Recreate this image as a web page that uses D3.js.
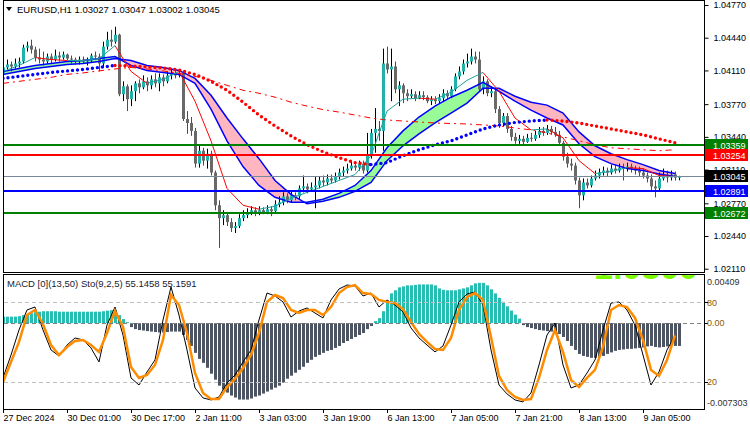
<!DOCTYPE html>
<html>
<head>
<meta charset="utf-8">
<script src="https://cdn.jsdelivr.net/npm/d3@7"></script>
<style>
  body { margin: 0; background: #fff; }
  svg text { font-family: "Liberation Sans", "DejaVu Sans", sans-serif; font-size: 9px; }
</style>
</head>
<body>
<div id="vis"></div>
<script>
// ---- data ----
const TITLE = "EURUSD,H1  1.03027 1.03047 1.03002 1.03045";
const SUB_TITLE = "MACD [0](13,50)  Sto(9,2,5) 55.1458 55.1591";
const SUB_MARK = "1.0300";

const timeTickBars = [0, 16, 32, 48, 64, 80, 96, 112, 128, 144, 160];
const timeTickLabels = ["27 Dec 2024", "30 Dec 01:00", "30 Dec 17:00", "2 Jan 11:00", "3 Jan 03:00",
  "3 Jan 19:00", "6 Jan 13:00", "7 Jan 05:00", "7 Jan 21:00", "8 Jan 13:00", "9 Jan 05:00"];

const priceTicks = [1.04770, 1.04440, 1.04110, 1.03770, 1.03440, 1.03110, 1.02770, 1.02440, 1.02110];

const open = [
1.0408,1.0414,1.0417,1.0415,1.0418,1.0420,1.0434,1.0436,1.0432,1.0424,
1.0422,1.0420,1.0425,1.0422,1.0426,1.0424,1.0427,1.0423,1.0422,1.0420,
1.0422,1.0420,1.0421,1.0426,1.0425,1.0418,1.0435,1.0442,1.0440,1.0447,
1.0387,1.0395,1.0382,1.0390,1.0398,1.0394,1.0400,1.0396,1.0402,1.0398,
1.0404,1.0400,1.0406,1.0408,1.0406,1.0408,1.0362,1.0358,1.0350,1.0317,
1.0330,1.0320,1.0327,1.0308,1.0275,1.0262,1.0265,1.0258,1.0252,1.0254,
1.0262,1.0265,1.0268,1.0270,1.0267,1.0270,1.0268,1.0271,1.0269,1.0276,
1.0278,1.0284,1.0280,1.0285,1.0284,1.0292,1.0294,1.0291,1.0293,1.0295,
1.0300,1.0298,1.0302,1.0300,1.0304,1.0308,1.0310,1.0312,1.0315,1.0313,
1.0317,1.0310,1.0325,1.0348,1.0352,1.0350,1.0418,1.0412,1.0415,1.0392,
1.0396,1.0388,1.0385,1.0387,1.0383,1.0386,1.0384,1.0380,1.0382,1.0380,
1.0383,1.0388,1.0385,1.0392,1.0405,1.0410,1.0418,1.0420,1.0425,1.0422,
1.0392,1.0400,1.0388,1.0390,1.0372,1.0358,1.0365,1.0352,1.0344,1.0340,
1.0342,1.0339,1.0343,1.0342,1.0346,1.0350,1.0348,1.0352,1.0349,1.0346,
1.0338,1.0324,1.0317,1.0315,1.0300,1.0285,1.0298,1.0295,1.0302,1.0305,
1.0308,1.0310,1.0308,1.0312,1.0310,1.0313,1.0312,1.0314,1.0312,1.0310,
1.0308,1.0305,1.0302,1.0294,1.0292,1.0302,1.0305,1.0303,1.0306,1.03027];

const high = [
1.0418,1.0422,1.0420,1.0423,1.0424,1.0437,1.0440,1.0442,1.0435,1.0433,
1.0430,1.0428,1.0428,1.0432,1.0430,1.0430,1.0428,1.0426,1.0424,1.0425,
1.0425,1.0424,1.0428,1.0430,1.0428,1.0440,1.0450,1.0452,1.0455,1.0448,
1.0400,1.0397,1.0396,1.0400,1.0402,1.0406,1.0404,1.0406,1.0408,1.0408,
1.0407,1.0410,1.0412,1.0412,1.0412,1.0410,1.0370,1.0364,1.0353,1.0335,
1.0333,1.0332,1.0330,1.0310,1.0280,1.0270,1.0268,1.0262,1.0258,1.0266,
1.0270,1.0272,1.0274,1.0273,1.0274,1.0273,1.0275,1.0274,1.0280,1.0284,
1.0288,1.0287,1.0290,1.0288,1.0295,1.0305,1.0297,1.0298,1.0304,1.0304,
1.0305,1.0306,1.0306,1.0308,1.0312,1.0314,1.0317,1.0320,1.0319,1.0320,
1.0320,1.0348,1.0352,1.0373,1.0360,1.0433,1.0435,1.0433,1.0420,1.0400,
1.0398,1.0392,1.0392,1.0390,1.0390,1.0390,1.0386,1.0385,1.0385,1.0387,
1.0392,1.0391,1.0395,1.0408,1.0415,1.0422,1.0428,1.0433,1.0430,1.0430,
1.0405,1.0402,1.0395,1.0392,1.0375,1.0368,1.0368,1.0355,1.0348,1.0346,
1.0345,1.0347,1.0348,1.0350,1.0354,1.0354,1.0356,1.0355,1.0354,1.0350,
1.0340,1.0328,1.0322,1.0318,1.0303,1.0302,1.0302,1.0305,1.0310,1.0312,
1.0314,1.0313,1.0316,1.0316,1.0317,1.0317,1.0318,1.0317,1.0315,1.0314,
1.0312,1.0308,1.0306,1.0300,1.0308,1.0312,1.0310,1.0310,1.0309,1.03047];

const low = [
1.0406,1.0412,1.0410,1.0413,1.0414,1.0418,1.0430,1.0428,1.0420,1.0418,
1.0416,1.0418,1.0418,1.0420,1.0420,1.0422,1.0420,1.0418,1.0417,1.0417,
1.0418,1.0416,1.0419,1.0422,1.0410,1.0414,1.0432,1.0435,1.0438,1.0385,
1.0380,1.0370,1.0375,1.0380,1.0388,1.0392,1.0390,1.0392,1.0394,1.0390,
1.0395,1.0398,1.0402,1.0403,1.0404,1.0360,1.0347,1.0345,1.0313,1.0313,
1.0315,1.0312,1.0305,1.0270,1.0232,1.0255,1.0254,1.0248,1.0247,1.0252,
1.0259,1.0262,1.0265,1.0264,1.0265,1.0266,1.0266,1.0264,1.0267,1.0273,
1.0275,1.0277,1.0278,1.0280,1.0281,1.0288,1.0287,1.0289,1.0272,1.0292,
1.0294,1.0295,1.0297,1.0298,1.0301,1.0304,1.0307,1.0310,1.0310,1.0310,
1.0307,1.0308,1.0322,1.0328,1.0340,1.0330,1.0408,1.0380,1.0388,1.0375,
1.0378,1.0380,1.0383,1.0380,1.0382,1.0381,1.0378,1.0376,1.0377,1.0378,
1.0380,1.0382,1.0383,1.0390,1.0402,1.0407,1.0414,1.0417,1.0418,1.0390,
1.0387,1.0385,1.0384,1.0368,1.0353,1.0355,1.0348,1.0340,1.0337,1.0337,
1.0336,1.0338,1.0339,1.0340,1.0343,1.0345,1.0346,1.0346,1.0344,1.0335,
1.0320,1.0313,1.0310,1.0296,1.0272,1.0280,1.0292,1.0293,1.0300,1.0302,
1.0305,1.0304,1.0306,1.0307,1.0308,1.0300,1.0309,1.0308,1.0306,1.0304,
1.0302,1.0298,1.0290,1.0283,1.0290,1.0300,1.0298,1.0300,1.0300,1.03002];

const close = [
1.0414,1.0417,1.0415,1.0418,1.0420,1.0434,1.0436,1.0432,1.0424,1.0422,
1.0420,1.0425,1.0422,1.0426,1.0424,1.0427,1.0423,1.0422,1.0420,1.0422,
1.0420,1.0421,1.0426,1.0425,1.0418,1.0435,1.0442,1.0440,1.0447,1.0387,
1.0395,1.0382,1.0390,1.0398,1.0394,1.0400,1.0396,1.0402,1.0398,1.0404,
1.0400,1.0406,1.0408,1.0406,1.0408,1.0362,1.0358,1.0350,1.0317,1.0330,
1.0320,1.0327,1.0308,1.0275,1.0262,1.0265,1.0258,1.0252,1.0254,1.0262,
1.0265,1.0268,1.0270,1.0267,1.0270,1.0268,1.0271,1.0269,1.0276,1.0278,
1.0284,1.0280,1.0285,1.0284,1.0292,1.0294,1.0291,1.0293,1.0295,1.0300,
1.0298,1.0302,1.0300,1.0304,1.0308,1.0310,1.0312,1.0315,1.0313,1.0317,
1.0310,1.0325,1.0348,1.0352,1.0350,1.0418,1.0412,1.0415,1.0392,1.0396,
1.0388,1.0385,1.0387,1.0383,1.0386,1.0384,1.0380,1.0382,1.0380,1.0383,
1.0388,1.0385,1.0392,1.0405,1.0410,1.0418,1.0420,1.0425,1.0422,1.0392,
1.0400,1.0388,1.0390,1.0372,1.0358,1.0365,1.0352,1.0344,1.0340,1.0342,
1.0339,1.0343,1.0342,1.0346,1.0350,1.0348,1.0352,1.0349,1.0346,1.0338,
1.0324,1.0317,1.0315,1.0300,1.0285,1.0298,1.0295,1.0302,1.0305,1.0308,
1.0310,1.0308,1.0312,1.0310,1.0313,1.0312,1.0314,1.0312,1.0310,1.0308,
1.0305,1.0302,1.0294,1.0292,1.0302,1.0305,1.0303,1.0306,1.0303,1.03045];

// indicator lines, one value every 4 bars (bars 0,4,...,168)
const dotMA = [1.0403,1.0405,1.0407,1.0409,1.04105,1.0412,1.0414,1.0416,1.04155,1.04145,1.04135,1.04115,
  1.0407,1.0400,1.0391,1.0379,1.0366,1.0355,1.0345,1.0336,1.0329,1.0323,1.0318,1.0316,1.0318,1.0325,
  1.0331,1.0336,1.0340,1.0346,1.0352,1.0356,1.03585,1.0360,1.0361,1.0360,1.0358,1.0355,1.0352,1.0349,
  1.0346,1.0342,1.0338];
const slowMA = [1.0398,1.0400,1.0402,1.0404,1.0407,1.04085,1.04105,1.04125,1.0414,1.04125,1.04105,1.0408,
  1.0405,1.0401,1.0396,1.0391,1.0388,1.0384,1.0379,1.0375,1.03715,1.0369,1.0366,1.0363,1.0361,1.0360,
  1.0359,1.0358,1.03575,1.0357,1.0356,1.0355,1.0353,1.0351,1.0348,1.0344,1.0340,1.0336,1.0333,1.0332,
  1.0331,1.0330,1.0331];
const ribbonFast = [1.0410,1.0413,1.0416,1.0418,1.0420,1.0421,1.0423,1.0425,1.0416,1.0411,1.0409,1.0407,
  1.0398,1.0372,1.0340,1.0314,1.0295,1.0283,1.0278,1.0278,1.0281,1.0287,1.0295,1.0310,1.0333,1.0350,
  1.0364,1.0375,1.0384,1.0391,1.0399,1.0390,1.0380,1.0371,1.0363,1.0356,1.0337,1.0324,1.0317,1.0312,
  1.0310,1.03065,1.0304];
const ribbonSlow = [1.0407,1.0410,1.0413,1.0415,1.0417,1.0418,1.0420,1.0423,1.0421,1.0416,1.0414,1.0411,
  1.0403,1.0386,1.0363,1.0342,1.0322,1.0300,1.0286,1.02765,1.0279,1.0283,1.0289,1.0298,1.0320,1.0335,
  1.0347,1.0358,1.0368,1.0378,1.0393,1.0393,1.0385,1.0379,1.0376,1.0368,1.0349,1.0335,1.0327,1.0321,
  1.0316,1.0310,1.0307];
const fastMA = [1.0410,1.0416,1.0424,1.0422,1.0421,1.0421,1.0423,1.0436,1.0410,1.0398,1.0402,1.0410,
  1.0380,1.0340,1.0292,1.0275,1.0271,1.0274,1.0282,1.0288,1.0294,1.0300,1.0306,1.0325,1.0370,1.0382,
  1.0383,1.0382,1.0389,1.0401,1.0409,1.0390,1.0363,1.0351,1.0352,1.0343,1.0320,1.0307,1.0309,1.0313,
  1.0312,1.0305,1.0304];

// horizontal levels
const levelPrices = [1.03359, 1.03254, 1.02891, 1.02672];
const levelNames = ["1.03359", "1.03254", "1.02891", "1.02672"];

// MACD histogram, one value per bar
const macd = [
0.00055,0.00055,0.00055,0.00055,0.00059,0.00068,0.00076,0.00084,0.00093,0.00097,
0.00101,0.00101,0.00101,0.00101,0.00097,0.00097,0.00097,0.00097,0.00097,0.00097,
0.00097,0.00097,0.00097,0.00097,0.00097,0.00101,0.00106,0.00110,0.00110,0.00068,
0.00034,0.00008,-0.00034,-0.00051,-0.00059,-0.00063,-0.00068,-0.00072,-0.00076,-0.00080,
-0.00080,-0.00076,-0.00072,-0.00072,-0.00072,-0.00101,-0.00143,-0.00194,-0.00253,-0.00304,
-0.00338,-0.00380,-0.00430,-0.00481,-0.00532,-0.00565,-0.00591,-0.00616,-0.00633,-0.00650,
-0.00650,-0.00650,-0.00641,-0.00625,-0.00616,-0.00599,-0.00582,-0.00565,-0.00549,-0.00532,
-0.00506,-0.00473,-0.00447,-0.00422,-0.00397,-0.00371,-0.00338,-0.00312,-0.00287,-0.00270,
-0.00253,-0.00236,-0.00228,-0.00211,-0.00194,-0.00169,-0.00152,-0.00135,-0.00118,-0.00101,
-0.00084,-0.00051,-0.00025,0.00017,0.00042,0.00101,0.00186,0.00253,0.00279,0.00304,
0.00312,0.00321,0.00321,0.00325,0.00329,0.00329,0.00329,0.00329,0.00321,0.00295,
0.00283,0.00279,0.00279,0.00279,0.00287,0.00295,0.00304,0.00321,0.00338,0.00342,
0.00342,0.00321,0.00287,0.00253,0.00215,0.00181,0.00143,0.00106,0.00072,0.00038,
-0.00017,-0.00034,-0.00042,-0.00051,-0.00059,-0.00063,-0.00068,-0.00072,-0.00076,-0.00093,
-0.00118,-0.00152,-0.00194,-0.00228,-0.00262,-0.00279,-0.00287,-0.00295,-0.00295,-0.00287,
-0.00279,-0.00262,-0.00249,-0.00236,-0.00228,-0.00224,-0.00219,-0.00219,-0.00215,-0.00211,
-0.00207,-0.00198,-0.00194,-0.00203,-0.00207,-0.00203,-0.00198,-0.00194,-0.00194,-0.00194];

// stochastic, one value every 2 bars (bars 0,2,...,168)
const stochK = [23.3,40.5,59.3,74.3,76.5,59.3,44.3,39.8,48,53.3,51.8,45.8,35.3,63,76.5,55.5,23.3,18,27.8,36.8,
  66.8,91.5,70.5,44.3,15.8,8.3,6.8,9,19.5,25.5,35.3,44.3,66.8,87,84.8,80.3,69,73.5,75.8,72,
  68.3,81.8,90,93,92.3,84.8,87,76.5,81.8,78,72.8,60.8,53.3,48,42.8,47.3,63,80.3,86.3,87.8,
  78,44.3,18,11.3,6.8,5.3,12,33,55.5,64.5,33,15.8,18,27,36.8,59.3,79.5,80.3,74.3,63,
  40.5,18,27.8,44.3,55.1];
const stochD = [20.3,35.3,50.3,70.5,74.3,63.8,48,40.5,46.5,51,51.8,48,42.8,57,73.5,61.5,31.5,23.3,25.5,33,
  51.8,85.5,78,57,27,12,7.5,7.5,16.5,22.5,30.8,40.5,57,80.3,85.5,83.3,74.3,72,74.3,74.3,
  70.5,76.5,87,91.5,93,87,86.3,81.8,80.3,79.5,75,65.3,56.3,50.3,45,44.3,53.3,74.3,84,87,
  81.8,54,24.8,14.3,9,6.8,7.5,23.3,44.3,59.3,42.8,21.8,16.5,23.3,29.3,46.5,74.3,78,76.5,68.3,
  51.8,29.3,24.8,36.8,55.2];

// ---- layout ----
const WIDTH = 750, HEIGHT = 430;
const LEFT = 3, RIGHT = 704;
const MAIN = {top: 0, bottom: 272};
const SUB = {top: 274, bottom: 409};

const svg = d3.select("#vis").append("svg")
  .attr("width", WIDTH).attr("height", HEIGHT);

const X = d3.scaleLinear().domain([0, 169]).range([3, 679]);
const Y = d3.scaleLinear().domain([1.0244, 1.0477]).range([236, 5]);
const Y_MACD = d3.scaleLinear().domain([-0.007303, 0.00409]).range([409, 275]);
const Y_STO = d3.scaleLinear().domain([0, 100]).range([409, 275.7]);

const defs = svg.append("defs");
defs.append("clipPath").attr("id", "clipMain").append("rect")
  .attr("x", LEFT + 1).attr("y", MAIN.top).attr("width", RIGHT - LEFT - 1).attr("height", MAIN.bottom - MAIN.top);
defs.append("clipPath").attr("id", "clipSub").append("rect")
  .attr("x", LEFT + 1).attr("y", SUB.top + 1).attr("width", RIGHT - LEFT - 1).attr("height", SUB.bottom - SUB.top - 1);

const main = svg.append("g").attr("clip-path", "url(#clipMain)");
const sub = svg.append("g").attr("clip-path", "url(#clipSub)");

const step4 = d3.range(0, 170, 4);
const step2 = d3.range(0, 170, 2);
const bars = d3.range(close.length);

// ---- ribbon fill (green when fast above slow, pink otherwise) ----
const rib = step4.map((b, k) => ({b: b, f: ribbonFast[k], s: ribbonSlow[k]}));
defs.append("clipPath").attr("id", "ribAbove").append("path")
  .attr("d", d3.area().x(d => X(d.b)).y0(0).y1(d => Y(d.s))(rib));
defs.append("clipPath").attr("id", "ribBelow").append("path")
  .attr("d", d3.area().x(d => X(d.b)).y0(HEIGHT).y1(d => Y(d.s))(rib));
const band = d3.area().x(d => X(d.b)).y0(d => Y(d.f)).y1(d => Y(d.s));
main.append("g").attr("clip-path", "url(#ribAbove)")
  .append("path").attr("d", band(rib)).attr("fill", "#98fb98");
main.append("g").attr("clip-path", "url(#ribBelow)")
  .append("path").attr("d", band(rib)).attr("fill", "#ffb6c1");

// ---- candles ----
const up = i => close[i] >= open[i];
main.selectAll(".wick").data(bars).join("line")
  .attr("class", "wick")
  .attr("x1", i => X(i) + 0.5).attr("x2", i => X(i) + 0.5)
  .attr("y1", i => Y(high[i])).attr("y2", i => Y(low[i]))
  .attr("stroke", i => up(i) ? "#000" : "#c0143c").attr("stroke-width", 1);
main.selectAll(".body").data(bars).join("rect")
  .attr("class", "body")
  .attr("x", i => X(i) - 1).attr("width", 3)
  .attr("y", i => Y(Math.max(open[i], close[i])))
  .attr("height", i => Math.max(1, Math.abs(Y(open[i]) - Y(close[i]))))
  .attr("fill", i => up(i) ? "#20b2aa" : "#696969");

// ---- ribbon edges ----
["f", "s"].forEach(key => {
  main.append("path")
    .attr("d", d3.line().x(d => X(d.b)).y(d => Y(d[key]))(rib))
    .attr("fill", "none").attr("stroke", "#0000ff").attr("stroke-width", 1.5);
});

// split a sampled series into runs of rising / falling
function runs(values, bars) {
  const out = [];
  for (let k = 0; k < values.length - 1; k++) {
    const rising = values[k + 1] >= values[k];
    const last = out[out.length - 1];
    if (last && last.rising === rising) last.pts.push([bars[k + 1], values[k + 1]]);
    else out.push({rising: rising, pts: [[bars[k], values[k]], [bars[k + 1], values[k + 1]]]});
  }
  return out;
}
const priceLine = d3.line().x(p => X(p[0])).y(p => Y(p[1]));

// long dash-dot MA
main.append("path")
  .attr("d", d3.line().x((v, k) => X(step4[k])).y(v => Y(v))(slowMA))
  .attr("fill", "none").attr("stroke", "#ff0000").attr("stroke-width", 1)
  .attr("stroke-dasharray", "6,4,2,4");

// fast MA, teal when rising, red when falling
runs(fastMA, step4).forEach(r => {
  main.append("path").attr("d", priceLine(r.pts))
    .attr("fill", "none").attr("stroke", r.rising ? "#20a0a0" : "#ff0000").attr("stroke-width", 1);
});

// dotted MA, blue when rising, red when falling
runs(dotMA, step4).forEach(r => {
  main.append("path").attr("d", priceLine(r.pts))
    .attr("fill", "none").attr("stroke", r.rising ? "#0000ff" : "#ff0000")
    .attr("stroke-width", 3.4).attr("stroke-linecap", "round").attr("stroke-dasharray", "0,5");
});

// ---- horizontal levels ----
const levelColors = ["#008000", "#ff0000", "#0000ff", "#008000"];
const lastPrice = close[close.length - 1];
svg.append("line")
  .attr("x1", LEFT).attr("x2", RIGHT)
  .attr("y1", Math.round(Y(lastPrice)) + 0.5).attr("y2", Math.round(Y(lastPrice)) + 0.5)
  .attr("stroke", "#778899").attr("stroke-width", 1);
svg.selectAll(".level").data(levelPrices).join("line")
  .attr("class", "level")
  .attr("x1", LEFT).attr("x2", RIGHT)
  .attr("y1", d => Math.round(Y(d))).attr("y2", d => Math.round(Y(d)))
  .attr("stroke", (d, i) => levelColors[i]).attr("stroke-width", 2);

// ---- MACD panel ----
sub.selectAll(".hist").data(bars).join("rect")
  .attr("class", "hist")
  .attr("x", i => X(i) - 1).attr("width", 3)
  .attr("y", i => Math.min(Y_MACD(macd[i]), Y_MACD(0)))
  .attr("height", i => Math.abs(Y_MACD(macd[i]) - Y_MACD(0)))
  .attr("fill", i => macd[i] >= 0 ? "#26bdb3" : "#4d5562");

[80, 20].forEach(v => {
  svg.append("line").attr("x1", LEFT + 1).attr("x2", RIGHT)
    .attr("y1", Math.round(Y_STO(v)) + 0.5).attr("y2", Math.round(Y_STO(v)) + 0.5)
    .attr("stroke", "#c0c0c0").attr("stroke-dasharray", "4,3");
});
svg.append("line").attr("x1", LEFT + 1).attr("x2", RIGHT)
  .attr("y1", Math.round(Y_MACD(0)) + 0.5).attr("y2", Math.round(Y_MACD(0)) + 0.5)
  .attr("stroke", "#808080").attr("stroke-dasharray", "4,3");

const stoLine = d3.line().x((v, k) => X(step2[k])).y(v => Y_STO(v));
sub.append("path").attr("d", stoLine(stochK))
  .attr("fill", "none").attr("stroke", "#000").attr("stroke-width", 1);
sub.append("path").attr("d", stoLine(stochD))
  .attr("fill", "none").attr("stroke", "#ff8c00").attr("stroke-width", 2.5);

// large green label in the sub window, mostly cut off by the panel top
sub.append("text").attr("x", 594).attr("y", 279)
  .style("font-size", "34px").style("font-weight", "bold")
  .attr("fill", "#7cfc00").text(SUB_MARK);

svg.append("text").attr("x", 7).attr("y", 287).attr("fill", "#1a1a2e")
  .style("font-size", "9.5px").text(SUB_TITLE);

// ---- frames ----
svg.append("rect").attr("x", LEFT + 0.5).attr("y", 0.5)
  .attr("width", RIGHT - LEFT).attr("height", MAIN.bottom)
  .attr("fill", "none").attr("stroke", "#000");
svg.append("rect").attr("x", LEFT + 0.5).attr("y", SUB.top + 0.5)
  .attr("width", RIGHT - LEFT).attr("height", SUB.bottom - SUB.top)
  .attr("fill", "none").attr("stroke", "#000");

// ---- price axis ----
const yAxis = svg.append("g").attr("transform", `translate(${RIGHT + 0.5},0)`)
  .call(d3.axisRight(Y).tickValues(priceTicks).tickFormat(d3.format(".5f")).tickSize(4).tickPadding(5));
yAxis.select(".domain").remove();
yAxis.selectAll("text").style("font-size", "9px").attr("fill", "#000");

// level price boxes
const boxes = svg.selectAll(".lbox").data(levelPrices.concat([lastPrice])).join("g")
  .attr("class", "lbox")
  .attr("transform", d => `translate(${RIGHT + 1},${Math.round(Y(d)) - 6})`);
boxes.append("rect").attr("width", 43).attr("height", 12)
  .attr("fill", (d, i) => i < 4 ? levelColors[i] : "#000");
boxes.append("text").attr("x", 8).attr("y", 9.5).attr("fill", "#fff")
  .text((d, i) => i < 4 ? levelNames[i] : d3.format(".5f")(d));

// ---- MACD / stochastic axis labels ----
const subLabels = [
  {t: "0.00409", y: Y_MACD(0.00409) + 7, c: "#303030"},
  {t: "80", y: Y_STO(80), c: "#8a5a00", tick: true},
  {t: "0.00", y: Y_MACD(0), c: "#8a5a00", tick: true},
  {t: "20", y: Y_STO(20), c: "#8a5a00", tick: true},
  {t: "-0.007303", y: Y_MACD(-0.007303) - 6, c: "#303030"}
];
subLabels.forEach(l => {
  if (l.tick) svg.append("line").attr("x1", RIGHT).attr("x2", RIGHT + 4)
    .attr("y1", Math.round(l.y) + 0.5).attr("y2", Math.round(l.y) + 0.5).attr("stroke", "#000");
  svg.append("text").attr("x", RIGHT + 3).attr("y", l.y).attr("dy", "0.35em")
    .attr("fill", l.c).text(l.t);
});

// ---- time axis ----
timeTickBars.forEach((b, k) => {
  const tx = Math.round(X(b)) + 0.5;
  svg.append("line").attr("x1", tx).attr("x2", tx).attr("y1", SUB.bottom).attr("y2", SUB.bottom + 4)
    .attr("stroke", "#000");
  svg.append("text").attr("x", tx).attr("y", 421).attr("fill", "#000").text(timeTickLabels[k]);
});

// ---- title ----
svg.append("path").attr("d", "M6,7 L12,7 L9,11 Z").attr("fill", "#000");
svg.append("text").attr("x", 17).attr("y", 13).attr("fill", "#000")
  .style("font-size", "9.5px").text(TITLE);
</script>
</body>
</html>
